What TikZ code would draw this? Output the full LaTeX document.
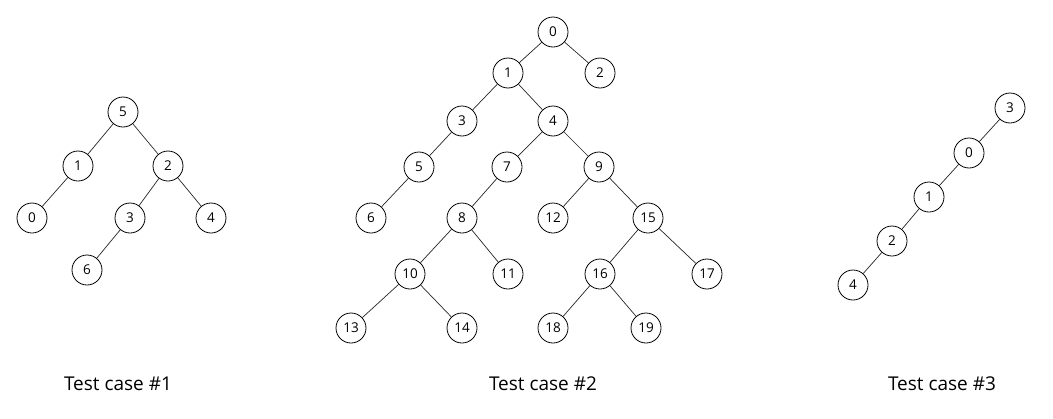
\documentclass[tikz,border=0pt]{standalone}
\usepackage{fontspec}
\setmainfont{Open Sans}
\begin{document}
\begin{tikzpicture}[x=1pt, y=-1pt] % координаты в пикселях, ось y вниз
\tikzstyle{vertex} = [circle, draw, line width=0.8pt, minimum size=30pt, inner sep=0pt, font=\fontsize{13.5}{13.5}\selectfont] % узел дерева
\tikzstyle{branch} = [line width=0.7pt, draw=black!85] % ребро
\tikzstyle{caption} = [font=\fontsize{19}{20}\selectfont] % подпись
\useasboundingbox (0,0) rectangle (1053,418);

% Test case #1
\foreach \name/\x/\y/\txt in {a5/123/112/5, a1/78/166/1, a2/168/166/2, a0/32/218/0,
    a3/130/218/3, a4/211/218/4, a6/87/270/6}
    \node[vertex] (\name) at (\x,\y) {\txt};
\foreach \u/\v in {a5/a1, a5/a2, a1/a0, a2/a3, a2/a4, a3/a6}
    \draw[branch] (\u) -- (\v);
\node[caption] (c1) at (118,384) {Test case \#1};

% Test case #2
\foreach \name/\x/\y/\txt in {b0/553/32/0, b1/508/73/1, b2/600/73/2, b3/462/121/3,
    b4/553/121/4, b5/419/167/5, b7/507/167/7, b9/599/167/9, b6/371/218/6,
    b8/462/218/8, b12/553/218/12, b15/648/218/15, b10/410/274/10, b11/508/274/11,
    b16/600/274/16, b17/707/274/17, b13/351/328/13, b14/462/328/14,
    b18/553/328/18, b19/646/328/19}
    \node[vertex] (\name) at (\x,\y) {\txt};
\foreach \u/\v in {b0/b1, b0/b2, b1/b3, b1/b4, b3/b5, b5/b6, b4/b7, b4/b9,
    b7/b8, b8/b10, b8/b11, b10/b13, b10/b14, b9/b12, b9/b15, b15/b16,
    b15/b17, b16/b18, b16/b19}
    \draw[branch] (\u) -- (\v);
\node[caption] (c2) at (543,384) {Test case \#2};

% Test case #3
\foreach \name/\x/\y/\txt in {c3/1010/108/3, c0/969/153/0, c1/929/197/1,
    c2/892/241/2, c4/853/285/4}
    \node[vertex] (\name) at (\x,\y) {\txt};
\foreach \u/\v in {c3/c0, c0/c1, c1/c2, c2/c4}
    \draw[branch] (\u) -- (\v);
\node[caption] (c3lbl) at (942,384) {Test case \#3};
\end{tikzpicture}
\end{document}
